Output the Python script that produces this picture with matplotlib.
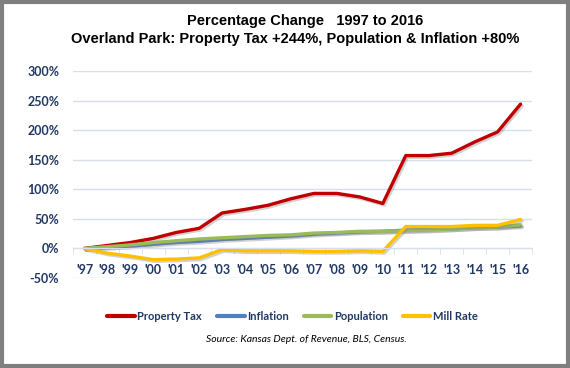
import matplotlib
matplotlib.use("Agg")
import matplotlib.pyplot as plt
import matplotlib.patheffects as pe
from matplotlib.patches import Rectangle

# data (percent change since 1997)
years = ["'97", "'98", "'99", "'00", "'01", "'02", "'03", "'04", "'05", "'06",
         "'07", "'08", "'09", "'10", "'11", "'12", "'13", "'14", "'15", "'16"]
property_tax = [0, 5, 10, 17, 27, 34, 60, 66, 73, 84, 93, 93, 87, 76, 157, 157, 161, 180, 197, 244]
inflation = [0, 2, 4, 7, 10, 12, 15, 17, 19, 21, 24, 26, 28, 29, 31, 32, 33, 35, 36, 38]
population = [0, 3, 6, 10, 13, 16, 18, 20, 22, 23, 26, 27, 29, 29, 30, 31, 33, 35, 36, 40]
mill_rate = [0, -8, -13, -19, -18, -16, -2, -4, -4, -4, -5, -5, -4, -5, 37, 37, 37, 39, 39, 49]

series = [("Property Tax", property_tax, "#C00000"),
          ("Inflation", inflation, "#4F81BD"),
          ("Population", population, "#9BBB59"),
          ("Mill Rate", mill_rate, "#FFC000")]

tick_color = "#1F3864"
grid_color = "#D6DFEE"

fig = plt.figure(figsize=(5.7, 3.68), dpi=100)
ax = fig.add_axes([73 / 570, 1 - 278 / 368, (532 - 73) / 570, (278 - 71) / 368])

x = list(range(len(years)))
shadow = [pe.SimpleLineShadow(offset=(1.2, -1.2), alpha=0.35, shadow_color="gray"), pe.Normal()]
for name, vals, col in series:
    ax.plot(x, vals, color=col, lw=2.4, label=name, path_effects=shadow,
            solid_joinstyle="round", solid_capstyle="round")

ax.set_xlim(-0.5, len(years) - 0.5)
ax.set_ylim(-50, 300)
ax.set_yticks(range(-50, 301, 50))
ax.set_yticklabels([f"{v}%" for v in range(-50, 301, 50)])
ax.grid(axis="y", color=grid_color, lw=1)
ax.set_axisbelow(True)

for s in ["top", "right", "left"]:
    ax.spines[s].set_visible(False)
ax.spines["bottom"].set_position(("data", 0))
ax.spines["bottom"].set_color(grid_color)

ax.set_xticks(x)
ax.set_xticklabels(years)
ax.set_xticks([i + 0.5 for i in range(-1, len(years))], minor=True)
ax.tick_params(axis="x", which="major", length=0, pad=11)
ax.tick_params(axis="x", which="minor", length=4, color=grid_color, direction="out")
ax.tick_params(axis="y", length=0, pad=10)
for lab in ax.get_xticklabels() + ax.get_yticklabels():
    lab.set_fontfamily("Lato")
    lab.set_fontweight("bold")
    lab.set_fontsize(9)
    lab.set_color(tick_color)

fig.text(0.535, 1 - 21 / 368, "Percentage Change   1997 to 2016", ha="center", va="center",
         fontsize=10.5, fontweight="bold", family="Liberation Sans")
fig.text(0.518, 1 - 39 / 368, "Overland Park: Property Tax +244%, Population & Inflation +80%",
         ha="center", va="center", fontsize=10.5, fontweight="bold", family="Liberation Sans")

leg = fig.legend(loc="center", bbox_to_anchor=(0.513, 1 - 316 / 368), ncol=4, frameon=False,
                 handlelength=2.5, handletextpad=0.2, columnspacing=1.35,
                 prop={"family": "Lato", "weight": "bold", "size": 8})
for t in leg.get_texts():
    t.set_color(tick_color)
for h in leg.get_lines():
    h.set_path_effects([])
    h.set_linewidth(3)

fig.text(0.537, 1 - 340 / 368, "Source: Kansas Dept. of Revenue, BLS, Census.", ha="center", va="center",
         fontsize=7.5, style="italic", family="Lato")

fig.patches.append(Rectangle((0.004, 0.006), 0.992, 0.988, transform=fig.transFigure,
                             fill=False, edgecolor="#7F7F7F", lw=3))

fig.savefig("out.png", dpi=100)
